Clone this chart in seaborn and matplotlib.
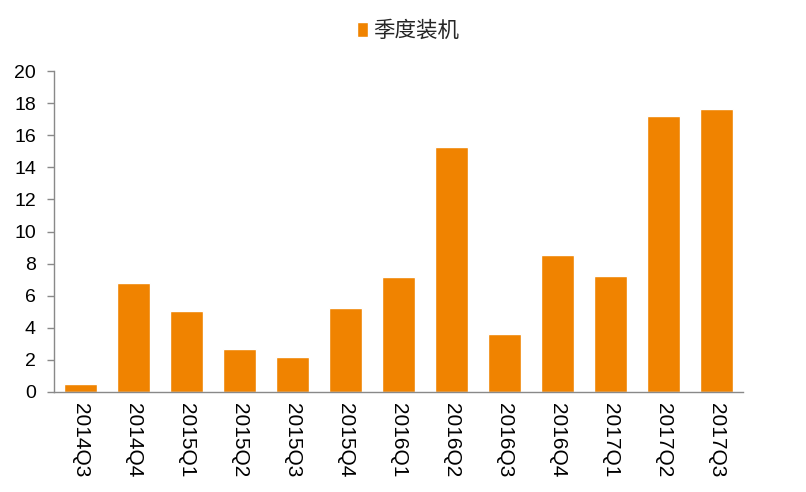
import matplotlib
matplotlib.use("Agg")
import matplotlib.pyplot as plt
import seaborn as sns
import pandas as pd
import numpy as np

quarters = ["2014Q3", "2014Q4", "2015Q1", "2015Q2", "2015Q3", "2015Q4", "2016Q1",
            "2016Q2", "2016Q3", "2016Q4", "2017Q1", "2017Q2", "2017Q3"]
values = [0.5, 6.8, 5.05, 2.68, 2.18, 5.23, 7.17, 15.27, 3.61, 8.54, 7.23, 17.2, 17.63]
series_name = "季度装机"
y_ticks = [0, 2, 4, 6, 8, 10, 12, 14, 16, 18, 20]

sns.set_theme(style="white")
plt.rcParams['font.family'] = ['Liberation Sans', 'Noto Sans CJK SC', 'DejaVu Sans']

df = pd.DataFrame({"quarter": quarters, "value": values, "series": series_name})

fig = plt.figure(figsize=(8.06, 4.92), dpi=100)
ax = fig.add_axes([54/806, 1-392/492, (743-54)/806, (392-71)/492])

sns.barplot(data=df, x="quarter", y="value", hue="series", palette=["#F08300"],
            width=0.62, ax=ax, saturation=1, legend=True)

ax.set_xlim(-0.5, len(quarters)-0.5)
ax.set_ylim(0, 20)
ax.set_yticks(y_ticks)
ax.set_yticklabels([str(t) for t in y_ticks], fontsize=14, color="black")
ax.set_xticks(range(len(quarters)))
ax.set_xticklabels(quarters, rotation=270, fontsize=15, color="black")
ax.set_xticks(np.arange(-0.5, len(quarters), 1.0), minor=True)
ax.tick_params(axis="x", which="major", length=0, pad=8)
ax.tick_params(axis="x", which="minor", length=6, width=1, color="#898989", direction="out")
ax.tick_params(axis="y", which="major", length=5, width=1, color="#898989", direction="out", left=True, pad=8)
ax.set_xlabel("")
ax.set_ylabel("")
for s in ["top", "right"]:
    ax.spines[s].set_visible(False)
for s in ["left", "bottom"]:
    ax.spines[s].set_color("#898989")
    ax.spines[s].set_linewidth(1)

leg = ax.legend(loc="center", bbox_to_anchor=(408/806, 1-31/492), bbox_transform=fig.transFigure,
                frameon=False, handlelength=0.5, handleheight=0.75, handletextpad=0.25,
                prop={"family": ["Noto Sans CJK SC"], "size": 15.5})

fig.savefig("out.png", dpi=100)
